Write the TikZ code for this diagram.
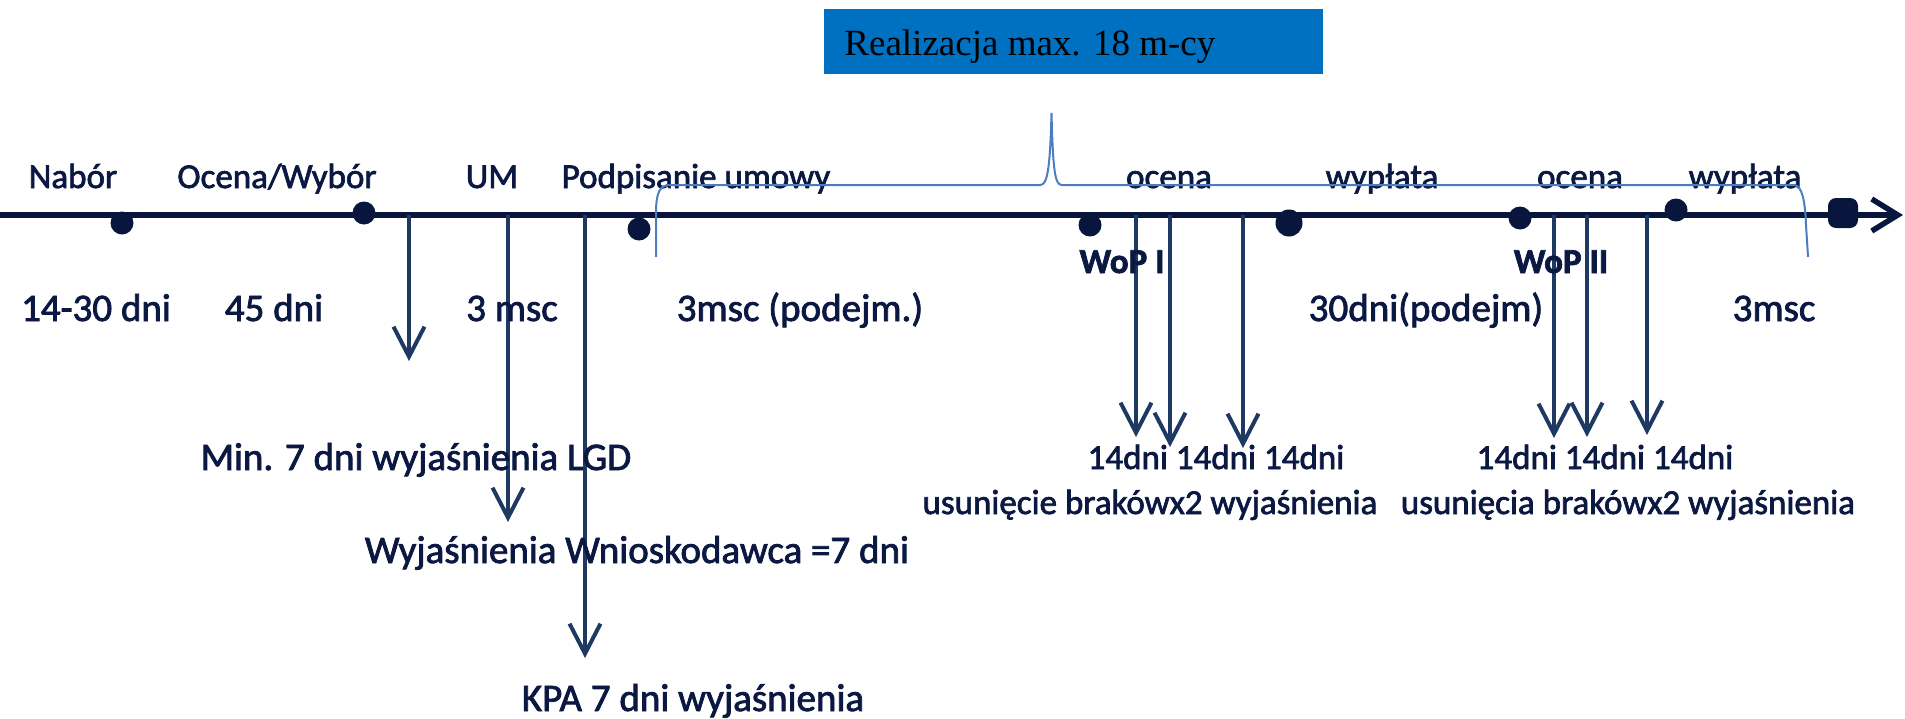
\documentclass[tikz,border=0pt]{standalone}
\usepackage{fontspec}
\setmainfont{Carlito}[FakeBold=2.0]
\newfontfamily\timesfont{Liberation Serif}
\usetikzlibrary{arrows.meta}
\definecolor{navy}{RGB}{10,24,66}
\definecolor{linenavy}{RGB}{8,22,62}
\definecolor{arrowblue}{RGB}{30,58,98}
\definecolor{braceblue}{RGB}{74,126,193}
\definecolor{boxblue}{RGB}{0,112,192}
\begin{document}
\begin{tikzpicture}[x=0.5pt,y=-0.5pt,
  lbl/.style={anchor=base, inner sep=0pt, text=navy, font=\fontsize{17.5}{20}\selectfont},
  lblbig/.style={anchor=base, inner sep=0pt, text=navy, font=\fontsize{19.5}{22}\selectfont},
  lblbold/.style={anchor=base, inner sep=0pt, text=navy, font=\fontsize{17.5}{20}\selectfont\bfseries},
  tdot/.style={circle, fill=linenavy, inner sep=0pt, minimum size=11.5pt},
  bigdot/.style={circle, fill=linenavy, inner sep=0pt, minimum size=13.5pt},
  enddot/.style={rectangle, rounded corners=4pt, fill=linenavy, inner sep=0pt, minimum width=15pt, minimum height=15pt},
  downarrow/.style={draw=arrowblue, line width=2pt, -{Straight Barb[length=15pt,width=15.5pt]}},
  mainline/.style={draw=linenavy, line width=2.75pt, -{Straight Barb[length=13pt,width=16pt]}},
  bracestyle/.style={draw=braceblue, line width=1pt},
  boxstyle/.style={fill=boxblue, draw=none, inner sep=0pt, anchor=north west, minimum width=249.5pt, minimum height=32.5pt}
]
\useasboundingbox (0,0) rectangle (1905,718);

% title box
\node[boxstyle] (box) at (824,9) {};
\node[anchor=base west, inner sep=0pt, font=\timesfont\fontsize{18.5}{20}\selectfont, text=black] (boxtext) at (844,55) {Realizacja max. 18 m-cy};

% main timeline
\coordinate (L0) at (0,215);
\coordinate (L1) at (1903,215);
\draw[mainline] (L0) -- (L1);

% vertical arrows
\coordinate (a1s) at (409,215); \coordinate (a1e) at (409,361);
\coordinate (a2s) at (508,215); \coordinate (a2e) at (508,522);
\coordinate (a3s) at (585,215); \coordinate (a3e) at (585,658);
\coordinate (b1s) at (1136,215); \coordinate (b1e) at (1136,437);
\coordinate (b2s) at (1170,215); \coordinate (b2e) at (1170,447);
\coordinate (b3s) at (1243,215); \coordinate (b3e) at (1243,448);
\coordinate (c1s) at (1554,215); \coordinate (c1e) at (1554,438);
\coordinate (c2s) at (1587,215); \coordinate (c2e) at (1587,437);
\coordinate (c3s) at (1647,215); \coordinate (c3e) at (1647,435);
\foreach \a in {a1,a2,a3,b1,b2,b3,c1,c2,c3}{
  \draw[downarrow] (\a s) -- (\a e);
}

% dots
\node[tdot] (d1) at (122,223) {};
\node[tdot] (d2) at (364,213) {};
\node[tdot] (d3) at (639,229) {};
\node[tdot] (d4) at (1090,225) {};
\node[bigdot] (d5) at (1289,223) {};
\node[tdot] (d6) at (1520,218) {};
\node[tdot] (d7) at (1676,210) {};
\node[enddot] (d8) at (1843,213) {};

% row 1 labels
\node[lbl] (nabor) at (73,188) {Nabór};
\node[lbl] (ocenawybor) at (277,188) {Ocena/Wybór};
\node[lbl] (um) at (492,188) {UM};
\node[lbl] (podpis) at (696,188) {Podpisanie umowy};
\node[lbl] (ocena1) at (1169,188) {ocena};
\node[lbl] (wyplata1) at (1382,188) {wypłata};
\node[lbl] (ocena2) at (1580,188) {ocena};
\node[lbl] (wyplata2) at (1745,188) {wypłata};

% WoP labels
\node[lblbold] (wop1) at (1122,273) {WoP I};
\node[lblbold] (wop2) at (1561,273) {WoP II};

% row 2 labels
\node[lblbig] (t1) at (96,321) {14-30 dni};
\node[lblbig] (t2) at (274,321) {45 dni};
\node[lblbig] (t3) at (512,321) {3 msc};
\node[lblbig] (t4) at (800,321) {3msc (podejm.)};
\node[lblbig] (t5) at (1426,321) {30dni(podejm)};
\node[lblbig] (t6) at (1774,321) {3msc};

% bottom labels
\node[lblbig] (lgd) at (416,470) {Min. 7 dni wyjaśnienia LGD};
\node[lblbig] (wnio) at (637,563) {Wyjaśnienia Wnioskodawca =7 dni};
\node[lblbig] (kpa) at (693,711) {KPA 7 dni wyjaśnienia};
\node[lbl] (dni1) at (1216,469) {14dni 14dni 14dni};
\node[lbl] (usun1) at (1150,514) {usunięcie brakówx2 wyjaśnienia};
\node[lbl] (dni2) at (1605,469) {14dni 14dni 14dni};
\node[lbl] (usun2) at (1628,514) {usunięcia brakówx2 wyjaśnienia};

% brace
\draw[bracestyle] (656,257) -- (656,213)
  .. controls (656,192) and (660,185) .. (670,185)
  -- (1040,185)
  .. controls (1047,185) and (1050,172) .. (1051.5,113)
  .. controls (1053,172) and (1055,185) .. (1062,185)
  -- (1795,185)
  .. controls (1802,187) and (1805,200) .. (1806,225)
  -- (1808,257);
\end{tikzpicture}
\end{document}
